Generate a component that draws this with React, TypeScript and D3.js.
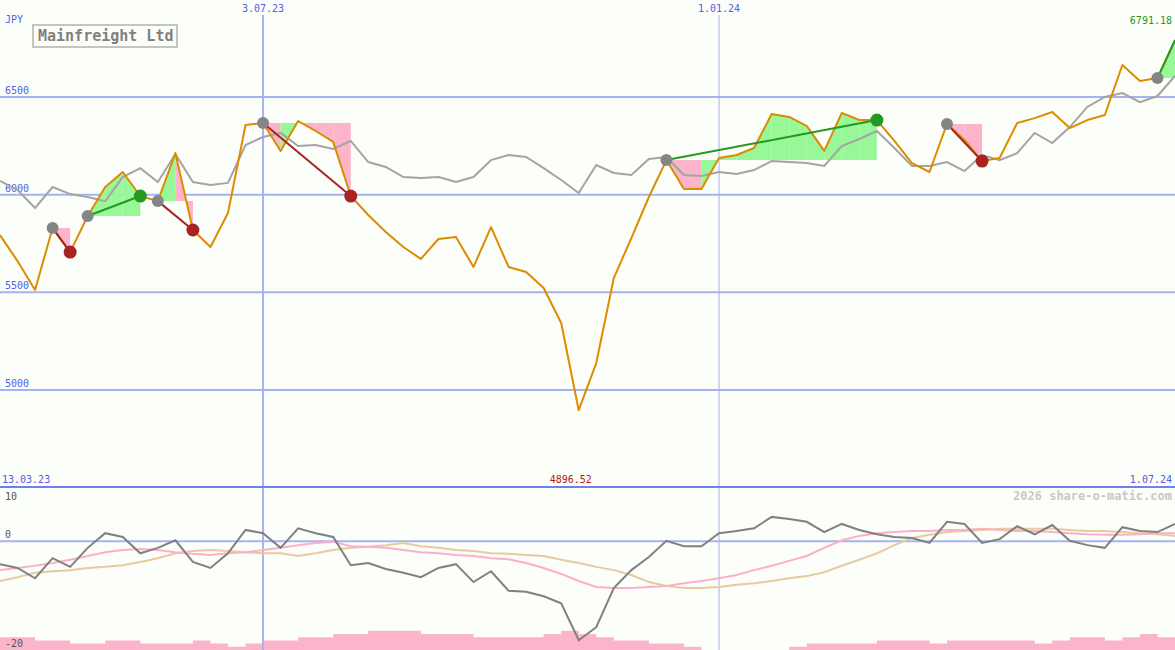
import React, { useEffect } from 'react';
import * as d3 from 'd3';

const W = 1175;
const H = 650;

// weekly closes (JPY)
const price = [
  5793, 5660, 5512, 5829, 5706, 5891, 6039, 6116, 5993, 5967,
  6213, 5819, 5732, 5906, 6357, 6367, 6224, 6377, 6326, 6270,
  5993, 5896, 5809, 5732, 5671, 5773, 5783, 5630, 5834, 5630,
  5604, 5522, 5343, 4896.52, 5138, 5573, 5778, 5988, 6177, 6029,
  6029, 6188, 6203, 6239, 6413, 6398, 6352, 6224, 6418, 6382,
  6382, 6275, 6162, 6116, 6362, 6280, 6172, 6188, 6367, 6392,
  6423, 6341, 6382, 6408, 6664, 6582, 6597, 6791.18,
];

// moving average (grey)
const avg = [
  6070, 6024, 5932, 6039, 6003, 5988, 5967, 6090, 6136, 6065,
  6208, 6065, 6049, 6060, 6254, 6295, 6316, 6249, 6254, 6234,
  6275, 6167, 6142, 6090, 6085, 6090, 6065, 6090, 6177, 6203,
  6193, 6136, 6075, 6008, 6152, 6111, 6101, 6183, 6193, 6101,
  6096, 6116, 6106, 6126, 6172, 6167, 6162, 6147, 6249, 6285,
  6326, 6239, 6147, 6147, 6167, 6121, 6203, 6177, 6213, 6316,
  6264, 6346, 6449, 6500, 6520, 6474, 6505, 6608,
];

// lower panel oscillator
const osc = [
  -4.2, -4.9, -6.8, -3.1, -4.7, -1.2, 1.5, 0.8, -2.2, -1.2,
  0.2, -3.8, -4.9, -2.2, 2.1, 1.5, -1.2, 2.4, 1.5, 0.8,
  -4.4, -4.0, -5.1, -5.8, -6.6, -4.9, -4.2, -7.5, -5.5, -9.1,
  -9.3, -10.1, -11.4, -18.2, -15.8, -8.6, -5.3, -2.9, 0.1, -0.9,
  -0.9, 1.5, 1.9, 2.4, 4.5, 4.1, 3.6, 1.7, 3.2, 2.1,
  1.3, 0.8, 0.6, -0.3, 3.6, 3.2, -0.3, 0.4, 2.8, 1.3,
  3.0, 0.1, -0.7, -1.2, 2.6, 1.9, 1.7, 3.2,
];

const oscFast = [
  -5.3, -4.9, -4.5, -4.0, -3.4, -2.7, -2.0, -1.6, -1.4, -1.6,
  -2.0, -2.3, -2.5, -2.2, -2.0, -1.6, -1.2, -0.7, -0.3, -0.1,
  -0.9, -1.0, -1.2, -1.6, -2.0, -2.2, -2.5, -2.7, -3.1, -3.3,
  -4.0, -4.9, -6.0, -7.3, -8.4, -8.6, -8.6, -8.4, -8.2, -7.7,
  -7.3, -6.8, -6.2, -5.3, -4.5, -3.6, -2.7, -1.2, 0.2, 1.0,
  1.5, 1.7, 1.9, 1.9, 2.1, 2.1, 2.3, 2.1, 1.9, 1.9,
  1.7, 1.5, 1.3, 1.2, 1.2, 1.3, 1.5, 1.5,
];

const oscSlow = [
  -7.3, -6.6, -5.8, -5.5, -5.3, -4.9, -4.7, -4.4, -3.8, -3.1,
  -2.2, -1.8, -1.6, -1.8, -2.0, -2.2, -2.2, -2.7, -2.2, -1.6,
  -1.2, -1.0, -0.7, -0.3, -0.9, -1.2, -1.6, -1.8, -2.2, -2.3,
  -2.5, -2.7, -3.4, -4.0, -4.7, -5.3, -6.2, -7.5, -8.2, -8.6,
  -8.6, -8.4, -8.0, -7.7, -7.3, -6.8, -6.4, -5.7, -4.5, -3.4,
  -2.2, -0.7, 0.6, 1.2, 1.7, 1.9, 2.1, 2.3, 2.3, 2.3,
  2.3, 2.1, 1.9, 1.9, 1.7, 1.5, 1.3, 1.0,
];

// volume steps (one bar per week)
const volume = [
  4, 4, 3, 3, 2, 2, 3, 3, 2, 2,
  2, 3, 2, 1, 2, 3, 3, 4, 4, 5,
  5, 6, 6, 6, 5, 5, 5, 4, 4, 4,
  4, 5, 6, 5, 4, 3, 3, 2, 2, 1,
  0, 0, 0, 0, 0, 1, 2, 2, 2, 2,
  3, 3, 3, 2, 3, 3, 3, 3, 3, 2,
  3, 4, 4, 3, 4, 5, 4,
];

const trades = [
  { entry: 3, exit: 4, open: false },
  { entry: 5, exit: 8, open: false },
  { entry: 9, exit: 11, open: false },
  { entry: 15, exit: 20, open: false },
  { entry: 38, exit: 50, open: false },
  { entry: 54, exit: 56, open: false },
  { entry: 66, exit: 67, open: true },
];

const priceTicks = [5000, 5500, 6000, 6500];
const dateTicks = [
  { label: '3.07.23', index: 15, width: 2 },
  { label: '1.01.24', index: 41, width: 1 },
];
const startLabel = '13.03.23';
const endLabel = '1.07.24';
const oscTicks = [
  { label: '10', value: 10, dy: 13 },
  { label: '0', value: 0, dy: -3 },
  { label: '-20', value: -20, dy: -3 },
];

const FONT = '"DejaVu Sans Mono", monospace';
const BLUE = '#5060e8';
const GRID = '#a6b3f0';
const GREEN_FILL = '#98f898';
const PINK_FILL = '#fbb4c9';
const WIN = '#229922';
const LOSS = '#a82222';

export default function App() {
  useEffect(() => {
    document.body.style.margin = '0';
  }, []);

  const n = price.length;
  const x = d3.scaleLinear().domain([0, n - 1]).range([0, W]);
  const y = d3.scaleLinear().domain([5000, 6500]).range([390, 97]);
  const yo = d3.scaleLinear().domain([-20, 10]).range([650, 487]);
  const yv = d3.scaleLinear().domain([0, 10]).range([650, 618]);

  const priceLine = d3.line<number>().x((_, i) => x(i)).y((d) => y(d));
  const oscLine = d3.line<number>().x((_, i) => x(i)).y((d) => yo(d));

  const maxV = d3.max(price) as number;
  const minV = d3.min(price) as number;
  const minI = price.indexOf(minV);

  // trade fills
  const fills: { d: string; color: string }[] = [];
  trades.forEach((t) => {
    const level = price[t.entry];
    for (let k = t.entry; k < t.exit; k++) {
      const seg = [k, k + 1];
      const area = d3
        .area<number>()
        .x((i) => x(i))
        .y0(() => y(level))
        .y1((i) => y(price[i]));
      fills.push({ d: area(seg) as string, color: price[k + 1] > level ? GREEN_FILL : PINK_FILL });
    }
  });

  const volArea = d3
    .area<number>()
    .curve(d3.curveStepAfter)
    .x((_, i) => x(i))
    .y0(yv(0))
    .y1((d) => yv(d));

  return (
    <svg
      width={W}
      height={H}
      style={{ position: 'absolute', left: 0, top: 0, display: 'block' }}
      fontFamily={FONT}
    >
      <rect x={0} y={0} width={W} height={H} fill="#fcfefa" />

      {/* volume steps */}
      <path d={volArea([...volume, volume[volume.length - 1]]) as string} fill={PINK_FILL} />

      {/* horizontal grid */}
      {priceTicks.map((t) => (
        <g key={t}>
          <line x1={0} x2={W} y1={y(t)} y2={y(t)} stroke={GRID} strokeWidth={2} />
          <text x={5} y={y(t) - 3} fontSize={10} fill={BLUE}>
            {t}
          </text>
        </g>
      ))}
      <line x1={0} x2={W} y1={yo(0)} y2={yo(0)} stroke={GRID} strokeWidth={2} />

      {/* vertical grid */}
      {dateTicks.map((t) => (
        <g key={t.label}>
          <line x1={x(t.index)} x2={x(t.index)} y1={15} y2={H} stroke={GRID} strokeWidth={t.width} />
          <text x={x(t.index)} y={12} fontSize={10} fill={BLUE} textAnchor="middle">
            {t.label}
          </text>
        </g>
      ))}

      {/* fills */}
      {fills.map((f, i) => (
        <path key={i} d={f.d} fill={f.color} />
      ))}

      {/* moving average */}
      <path d={priceLine(avg) as string} fill="none" stroke="#a4a4a4" strokeWidth={2} />

      {/* price */}
      <path d={priceLine(price) as string} fill="none" stroke="#dd8c00" strokeWidth={2} strokeLinejoin="round" />

      {/* trade lines */}
      {trades.map((t, i) => {
        const win = price[t.exit] > price[t.entry];
        return (
          <line
            key={i}
            x1={x(t.entry)}
            y1={y(price[t.entry])}
            x2={x(t.exit)}
            y2={y(price[t.exit])}
            stroke={win ? WIN : LOSS}
            strokeWidth={2}
          />
        );
      })}
      {trades.map((t, i) => {
        const win = price[t.exit] > price[t.entry];
        return (
          <g key={'c' + i}>
            <circle cx={x(t.entry)} cy={y(price[t.entry])} r={6} fill="#858585" />
            {!t.open && <circle cx={x(t.exit)} cy={y(price[t.exit])} r={6.5} fill={win ? WIN : LOSS} />}
          </g>
        );
      })}

      {/* separator */}
      <line x1={0} x2={W} y1={487} y2={487} stroke="#7080ea" strokeWidth={2} />

      {/* oscillator panel */}
      <path d={oscLine(oscSlow) as string} fill="none" stroke="#e6cc9c" strokeWidth={2} />
      <path d={oscLine(oscFast) as string} fill="none" stroke="#fcb0c8" strokeWidth={2} />
      <path d={oscLine(osc) as string} fill="none" stroke="#808080" strokeWidth={2} />
      {oscTicks.map((t) => (
        <text key={t.label} x={5} y={yo(t.value) + t.dy} fontSize={10} fill="#555">
          {t.label}
        </text>
      ))}

      {/* labels */}
      <text x={5} y={23} fontSize={10} fill={BLUE}>JPY</text>
      <rect x={33} y={25} width={144} height={22} fill="#fcfefa" stroke="#c4c4c4" strokeWidth={2} />
      <text x={38} y={41} fontSize={15} fontWeight="bold" fill="#808080">Mainfreight Ltd</text>
      <text x={W - 3} y={24} fontSize={10} fill={WIN} textAnchor="end">{maxV.toFixed(2)}</text>
      <text x={x(minI) - 8} y={483} fontSize={10} fill={LOSS} textAnchor="middle">{minV.toFixed(2)}</text>
      <text x={2} y={483} fontSize={10} fill={BLUE}>{startLabel}</text>
      <text x={W - 3} y={483} fontSize={10} fill={BLUE} textAnchor="end">{endLabel}</text>
      <text x={W - 3} y={500} fontSize={12} fontWeight="bold" fill="#c8c8c8" textAnchor="end">
        2026 share-o-matic.com
      </text>
    </svg>
  );
}
